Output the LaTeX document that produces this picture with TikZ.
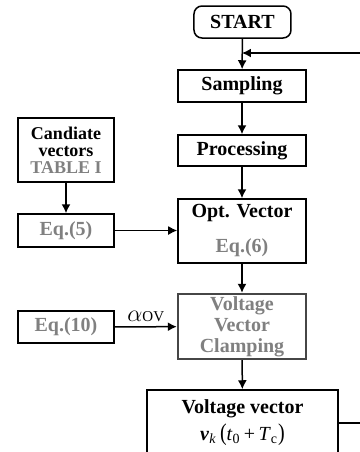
\documentclass[tikz,border=0pt]{standalone}
\usepackage{amsmath}
\usepackage{xcolor}
\usepackage{fontspec}
\setmainfont{Liberation Serif}
\usetikzlibrary{calc, arrows.meta, positioning, shapes}

\definecolor{eqgray}{RGB}{128,128,128}
\definecolor{boxgray}{RGB}{70,70,70}

\begin{document}
\begin{tikzpicture}[x=0.5pt, y=-0.5pt, >=latex, font=\fontsize{10}{10.5}\selectfont\bfseries]
		\tikzstyle{block} = [draw=black, line width=0.75pt, rectangle, align=center, inner sep=1pt]
		\tikzstyle{wide} = [block, minimum width=64pt]
		\tikzstyle{side} = [block, minimum width=48pt]
		\tikzstyle{greytext} = [text=eqgray]
		\tikzstyle{arrow} = [line width=0.75pt, -{Latex[length=4.5pt, width=4.5pt]}]
		\tikzstyle{line} = [line width=0.75pt]
		
		\clip (0, 0) rectangle (360, 452);
		\useasboundingbox (0, 0) rectangle (360, 452);
		
		\node[block, rounded corners=4pt, minimum width=48.5pt, minimum height=16pt]	at (242.5, 22)	(start)	{START};
		\node[wide, minimum height=16pt]	at (242, 86)		(samp)	{Sampling};
		\node[wide, minimum height=15.5pt]	at (242, 150.5)		(proc)	{Processing};
		\node[wide, minimum height=32pt]	at (242, 231)		(opt)	{Opt. Vector\\[7pt]\textcolor{eqgray}{Eq.(6)}};
		\node[wide, draw=boxgray, line width=1.2pt, minimum height=32.5pt]	at (242, 326.5)	(clamp)
			{\textcolor{eqgray}{Voltage}\\\textcolor{eqgray}{Vector}\\\textcolor{eqgray}{Clamping}};
		\node[block, minimum width=95.5pt, minimum height=33pt]	at (242.5, 423)	(vout)	{Voltage vector\\[2pt]
			\normalfont\textbf{\textit{v}}\textsubscript{\textit{k}}\,\scalebox{1}[1.2]{(}\textit{t}\textsubscript{0}\,+\,\textit{T}\textsubscript{c}\scalebox{1}[1.2]{)}};
		
		\node[side, minimum height=32pt, font=\fontsize{9}{8.5}\selectfont\bfseries]	at (66, 150)	(cand)	{Candiate\\vectors\\\textcolor{eqgray}{TABLE I}};
		\node[side, greytext, minimum height=16.5pt]	at (66, 230.5)	(eq5)	{Eq.(5)};
		\node[side, greytext, minimum height=16pt]	at (66, 327)	(eq10)	{Eq.(10)};
		
		\coordinate (loopr) at (380, 53);
		\coordinate (join) at (242, 53);
		
		\draw [arrow] (start) -- (samp);
		\draw [arrow] (samp) -- (proc);
		\draw [arrow] (proc) -- (opt);
		\draw [arrow] (opt) -- (clamp);
		\draw [arrow] (clamp) -- (vout);
		\draw [arrow] (cand) -- (eq5);
		\draw [arrow] (eq5) -- (opt.west |- eq5);
		\draw [arrow] (eq10) -- node[above, font=\normalfont, inner sep=2pt] {\fontsize{13}{13}\selectfont$\alpha$\fontsize{7.5}{8}\selectfont OV} (clamp);
		\draw [line] (vout.east) -| (loopr);
		\draw [arrow] (loopr) -- (join);
	\end{tikzpicture}
\end{document}
